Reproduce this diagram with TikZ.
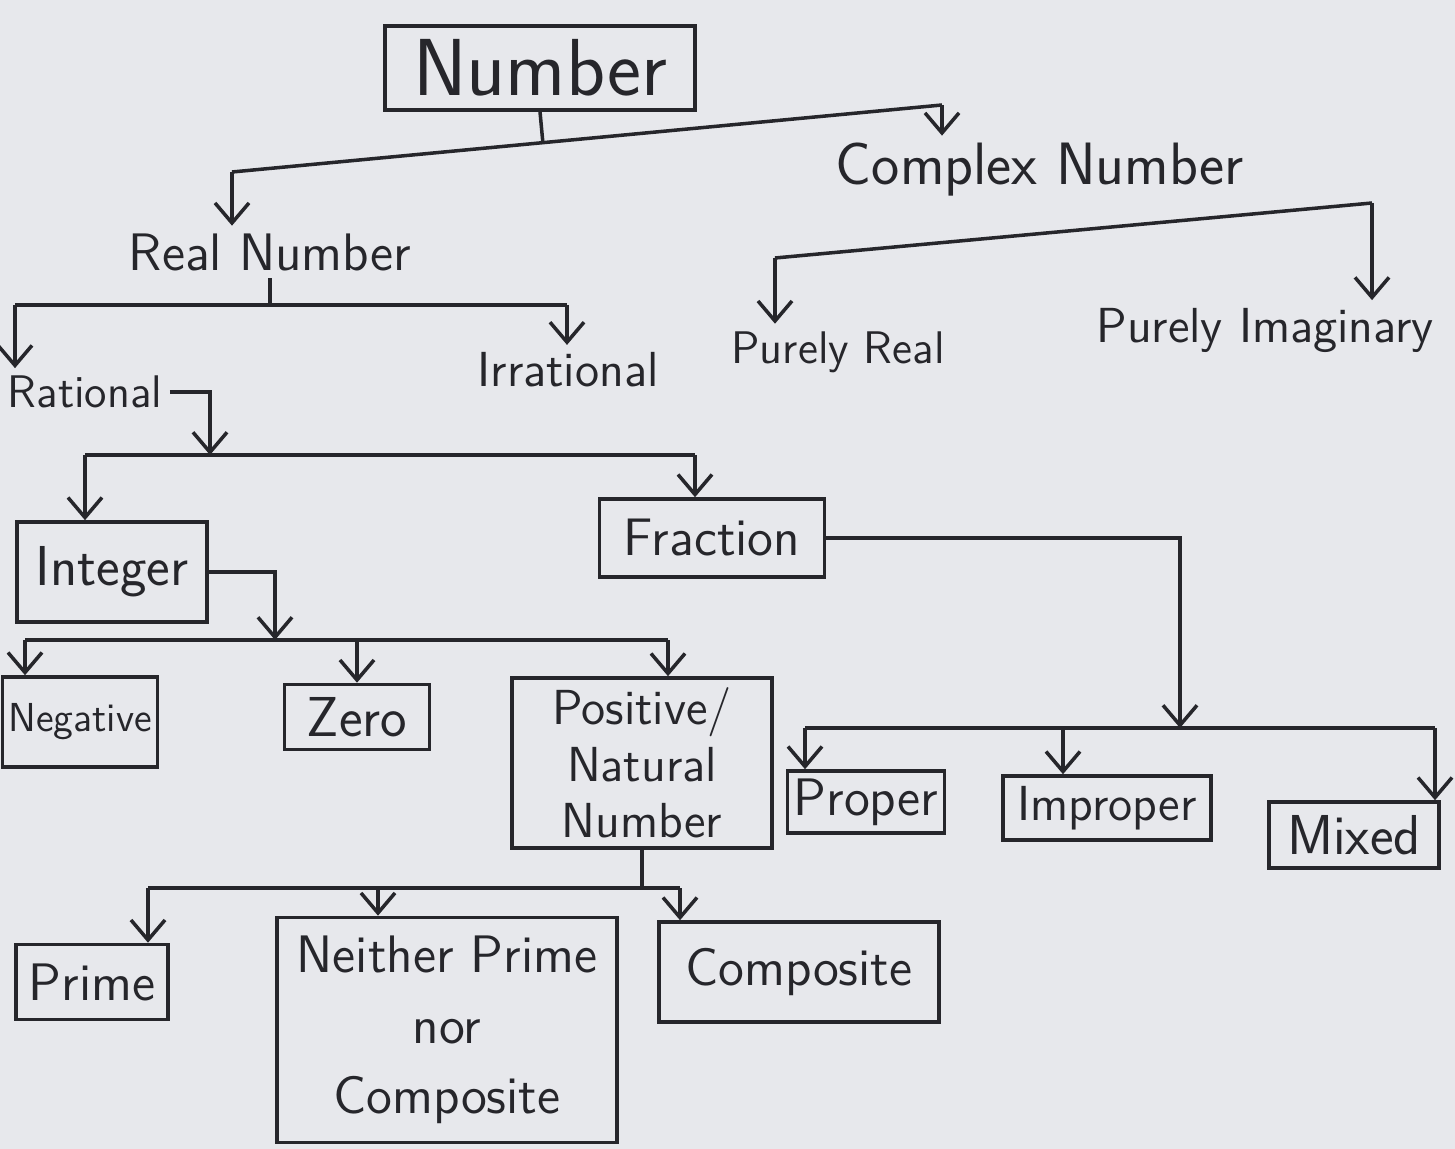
\documentclass[tikz,border=0pt]{standalone}
\usetikzlibrary{arrows.meta,calc}
\definecolor{ink}{HTML}{26262B}
\definecolor{paper}{HTML}{E7E8EC}
\tikzset{
  box/.style={
    draw,
    inner sep = 0.06cm,
    align=center
  },
  word/.style={
    inner sep = 0.06cm,
    align=center
  },
  arr/.style={
    -{Straight Barb[length=2mm,width=3.4mm]}
  }
}
\newcommand{\fs}[1]{\sffamily\fontsize{#1}{#1}\selectfont}
\begin{document}
\begin{tikzpicture}[x=0.01cm,y=-0.01cm,line width=1pt,color=ink,font=\fs{15}]
            \fill[paper] (0,0) rectangle (1455,1149);
            \useasboundingbox (0,0) rectangle (1455,1149);
            % upper levels
            \node[box,minimum width=3.1cm,minimum height=0.84cm,font=\fs{23}] (num) at (540,68) {Number};
            \node[word] (real) at (270,252) {Real Number};
            \node[word,font=\fs{17}] (cplx) at (1040,170) {Complex Number};
            \node[word,font=\fs{13}] (rat) at (85,392) {Rational};
            \node[word,font=\fs{14}] (irr) at (568,370) {Irrational};
            \node[word,font=\fs{13}] (preal) at (838,352) {Purely Real};
            \node[word,font=\fs{14}] (pimag) at (1265,330) {Purely Imaginary};
            % boxes
            \node[box,minimum width=1.9cm,minimum height=1cm,font=\fs{16}] (int) at (112,572) {Integer};
            \node[box,minimum width=2.25cm,minimum height=0.78cm] (frac) at (712,538) {Fraction};
            \node[box,minimum width=1.55cm,minimum height=0.9cm,font=\fs{11.5}] (neg) at (80,722) {Negative};
            \node[box,minimum width=1.45cm,minimum height=0.65cm,font=\fs{16}] (zero) at (357,717) {Zero};
            \node[box,minimum width=2.6cm,minimum height=1.7cm,font=\sffamily\fontsize{14}{16}\selectfont] (pos) at (642,763) {Positive/\\Natural\\Number};
            \node[box,minimum width=1.55cm,minimum height=0.62cm] (prop) at (866,802) {Proper};
            \node[box,minimum width=2.08cm,minimum height=0.64cm,font=\fs{14}] (improp) at (1107,808) {Improper};
            \node[box,minimum width=1.7cm,minimum height=0.66cm,font=\fs{16}] (mixed) at (1354,835) {Mixed};
            \node[box,minimum width=1.52cm,minimum height=0.75cm] (prime) at (92,982) {Prime};
            \node[box,minimum width=3.4cm,minimum height=2.25cm,font=\sffamily\fontsize{15}{20}\selectfont] (neither) at (447,1030) {Neither Prime\\nor\\Composite};
            \node[box,minimum width=2.8cm,minimum height=1cm] (comp) at (799,972) {Composite};
            % Number
            \coordinate (nL) at (232,172);
            \coordinate (nR) at (942,105);
            \draw (num.south) -- ($(nL)!(num.south)!(nR)$);
            \draw (nL) -- (nR);
            \draw[arr] (nL) -- (nL |- real.north);
            \draw[arr] (nR) -- (nR |- cplx.north);
            % Real Number
            \coordinate (rL) at (15,305);
            \coordinate (rR) at (567,305);
            \draw (real.south) -- (real.south |- rL);
            \draw (rL) -- (rR);
            \draw[arr] (rL) -- (rL |- rat.north);
            \draw[arr] (rR) -- (rR |- irr.north);
            % Complex Number
            \coordinate (cL) at (775,258);
            \coordinate (cR) at (1372,203);
            \draw (cL) -- (cR);
            \draw[arr] (cL) -- (cL |- preal.north);
            \draw[arr] (cR) -- (cR |- pimag.north);
            % Rational
            \coordinate (qM) at (210,455);
            \coordinate (qL) at (85,455);
            \coordinate (qR) at (695,455);
            \draw[arr] (rat.east) -| (qM);
            \draw (qL) -- (qR);
            \draw[arr] (qL) -- (qL |- int.north);
            \draw[arr] (qR) -- (qR |- frac.north);
            % Integer
            \coordinate (iM) at (275,640);
            \coordinate (iL) at (25,640);
            \coordinate (iR) at (668,640);
            \draw[arr] (int.east) -| (iM);
            \draw (iL) -- (iR);
            \draw[arr] (iL) -- (iL |- neg.north);
            \draw[arr] (zero.north |- iL) -- (zero.north);
            \draw[arr] (iR) -- (iR |- pos.north);
            % Fraction
            \coordinate (fM) at (1180,728);
            \coordinate (fL) at (805,728);
            \coordinate (fI) at (1063,728);
            \coordinate (fR) at (1435,728);
            \draw[arr] (frac.east) -| (fM);
            \draw (fL) -- (fR);
            \draw[arr] (fL) -- (fL |- prop.north);
            \draw[arr] (fI) -- (fI |- improp.north);
            \draw[arr] (fR) -- (fR |- mixed.north);
            % Positive / Natural
            \coordinate (pL) at (148,888);
            \coordinate (pN) at (378,888);
            \coordinate (pR) at (680,888);
            \draw (pos.south) -- (pos.south |- pL);
            \draw (pL) -- (pR);
            \draw[arr] (pL) -- (pL |- prime.north);
            \draw[arr] (pN) -- (pN |- neither.north);
            \draw[arr] (pR) -- (pR |- comp.north);
        \end{tikzpicture}
\end{document}
